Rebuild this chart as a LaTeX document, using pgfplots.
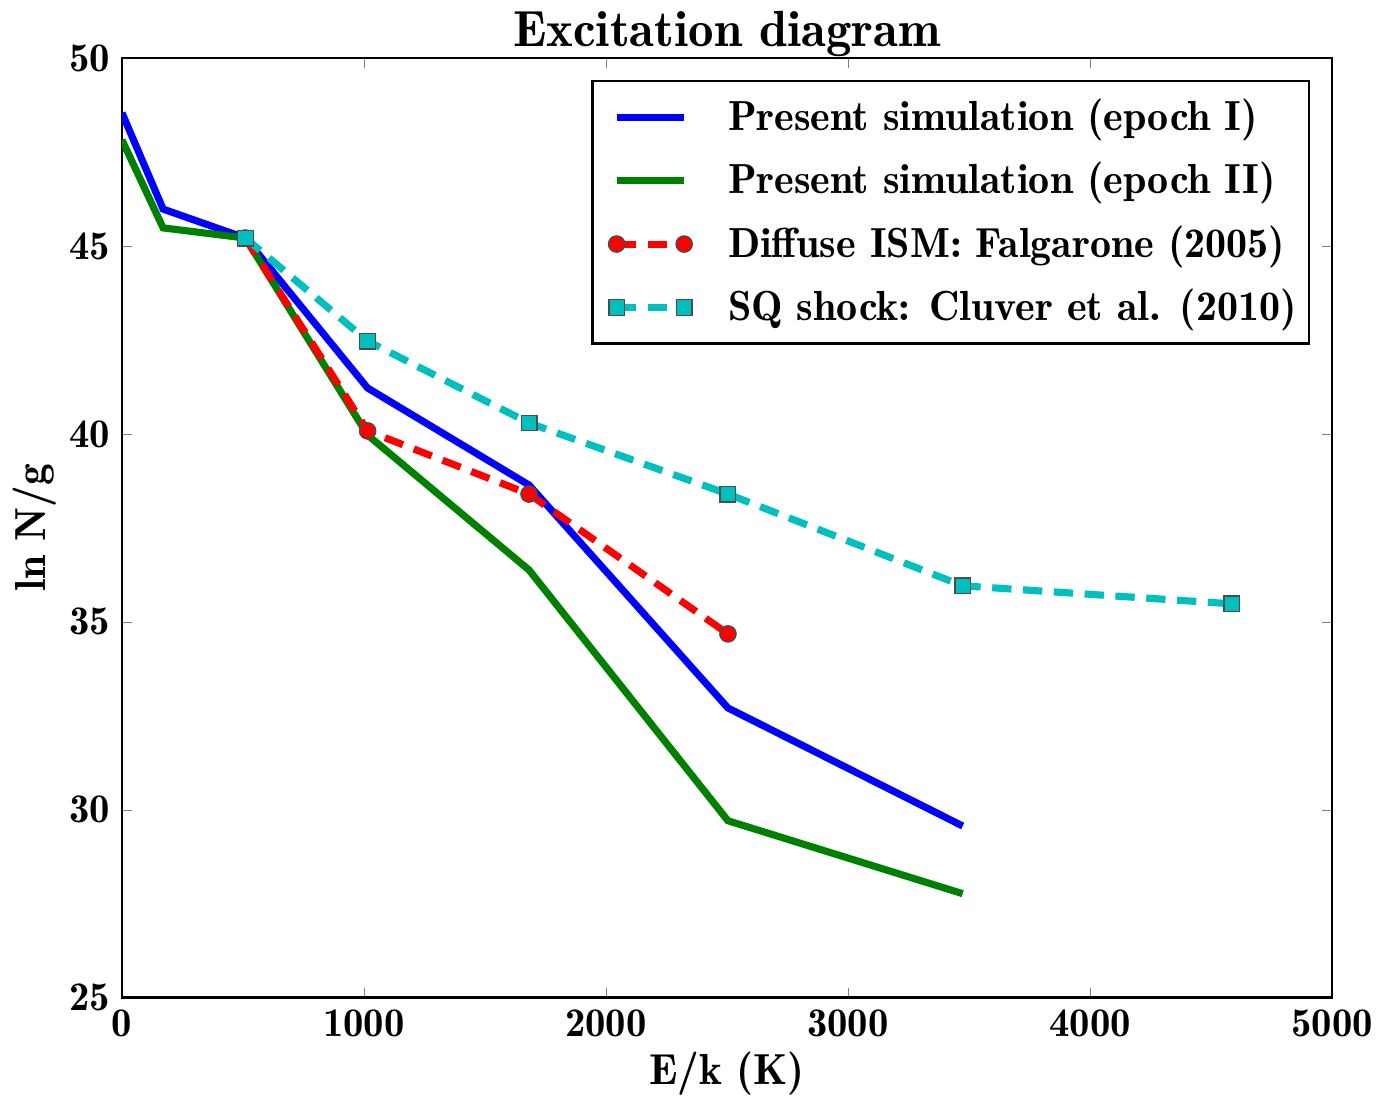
\documentclass[border=0pt]{standalone}
\usepackage{pgfplots}
\pgfplotsset{compat=1.18}
\definecolor{mblue}{rgb}{0,0,1}
\definecolor{mgreen}{rgb}{0,0.5,0}
\definecolor{mred}{rgb}{1,0,0}
\definecolor{mcyan}{rgb}{0,0.75,0.75}
\newcommand{\bfa}{\fontseries{b}\selectfont}
\begin{document}
\begin{tikzpicture}
\begin{axis}[
  scale only axis,
  width=12.54cm, height=9.74cm,
  xmin=0, xmax=5000, ymin=25, ymax=50,
  xtick={0,1000,2000,3000,4000,5000},
  ytick={25,30,35,40,45,50},
  tick align=inside,
  major tick length=0.1cm,
  /pgf/number format/assume math mode=true,
  tick label style={font=\fontsize{12}{14}\bfa},
  scaled x ticks=false,
  xticklabel style={/pgf/number format/1000 sep={}},
  title={\fontsize{15}{18}\bfa Excitation diagram},
  every axis title shift=0pt,
  title style={at={(axis description cs:0.5,1.0125)}, anchor=base},
  xlabel={\fontsize{12.8}{15}\bfa E/k (K)},
  ylabel={\fontsize{12.8}{15}\bfa ln N/g},
  xlabel style={at={(axis description cs:0.5,-0.0924)}, anchor=base},
  ylabel style={at={(axis description cs:-0.063,0.5)}, anchor=base},
  axis line style={line width=0.8pt},
  legend style={at={(0.982,0.977)}, anchor=north east, font=\fontsize{12.4}{15}\bfa,
    draw=black, line width=0.8pt, inner xsep=1.6pt, inner ysep=3.3pt,
    row sep=3.9pt, cells={anchor=west}},
  legend cell align=left,
  legend image code/.code={\path (0cm,0cm); \draw[mark repeat=1,mark phase=1] plot coordinates {(0.155cm,0cm) (0.855cm,0cm)};},
]
\coordinate (bl) at (rel axis cs:0,0);
\coordinate (tr) at (rel axis cs:1,1);
\addplot[color=mblue, line width=2.1pt, mark=none] coordinates {
(0,48.54) (170,45.98) (510,45.21) (1015,41.22) (1682,38.64) (2504,32.71) (3474,29.57)};
\addlegendentry{\hspace{0.3cm}Present simulation (epoch I)}
\addplot[color=mgreen, line width=2.1pt, mark=none] coordinates {
(0,47.82) (170,45.48) (510,45.21) (1015,39.97) (1682,36.38) (2504,29.71) (3474,27.77)};
\addlegendentry{\hspace{0.3cm}Present simulation (epoch II)}
\addplot[color=mred, line width=2.1pt, dash pattern=on 0.2cm off 0.12cm, mark=*, mark size=2.4pt,
  mark options={solid, fill=mred, draw=black!70, line width=0.4pt}] coordinates {
(510,45.21) (1015,40.08) (1682,38.40) (2504,34.68)};
\addlegendentry{\hspace{0.3cm}Diffuse ISM: Falgarone (2005)}
\addplot[color=mcyan, line width=2.1pt, dash pattern=on 0.2cm off 0.12cm, mark=square*, mark size=2.3pt,
  mark options={solid, fill=mcyan, draw=black!70, line width=0.4pt}] coordinates {
(510,45.21) (1015,42.47) (1682,40.29) (2504,38.40) (3474,35.96) (4586,35.48)};
\addlegendentry{\hspace{0.3cm}SQ shock: Cluver et al. (2010)}
\end{axis}
\pgfresetboundingbox
\path[use as bounding box] ([shift={(-1.264cm,-1.036cm)}]bl) rectangle ([shift={(0.487cm,0.601cm)}]tr);
\end{tikzpicture}
\end{document}
